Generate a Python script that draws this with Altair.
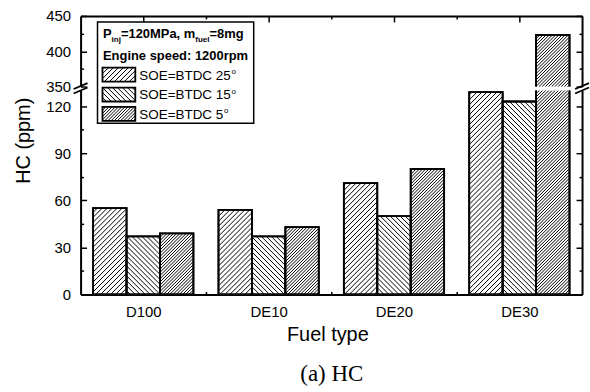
import altair as alt
import pandas as pd

# ---------------- data ----------------
fuels = ["D100", "DE10", "DE20", "DE30"]
soe_labels = ["SOE=BTDC 25", "SOE=BTDC 15", "SOE=BTDC 5"]
hc_btdc25 = [55, 54, 71, 129]
hc_btdc15 = [37, 37, 50, 123]
hc_btdc5 = [39, 43, 80, 423]
lower_tick_values = [0, 15, 30, 45, 60, 75, 90, 105, 120]
lower_label_values = [0, 30, 60, 90, 120]
upper_tick_values = [350, 375, 400, 425, 450]
upper_label_values = [350, 400, 450]

# ---------------- layout ----------------
W = 504                      # plot width
H_LO, H_HI, GAP = 205, 71, 4  # lower / upper panel heights, break gap
LO_DOM = [0, 130]
HI_DOM = [350, 450]
X_DOM = [0, len(fuels)]
GROUP = 0.8                  # share of a category slot taken by its bars
HATCH = [(1, 5.0), (-1, 5.0), (1, 3.2)]   # (slope sign, spacing px) per series
FONT = "Liberation Sans"


def px_x(x):
    return (x - X_DOM[0]) / (X_DOM[1] - X_DOM[0]) * W


def x_from_px(p):
    return X_DOM[0] + p / W * (X_DOM[1] - X_DOM[0])


def lo_px(v):
    return (v - LO_DOM[0]) / (LO_DOM[1] - LO_DOM[0]) * H_LO


def lo_from_px(p):
    return LO_DOM[0] + p / H_LO * (LO_DOM[1] - LO_DOM[0])


def hi_px(v):
    return (v - HI_DOM[0]) / (HI_DOM[1] - HI_DOM[0]) * H_HI


def hi_from_px(p):
    return HI_DOM[0] + p / H_HI * (HI_DOM[1] - HI_DOM[0])


def hatch(xa, xb, ya, yb, slope, step):
    """Diagonal hatch segments clipped to a pixel rectangle (y pointing up)."""
    segs = []
    if slope > 0:
        k0, k1 = int((ya - xb) // step), int((yb - xa) // step) + 1
        for k in range(k0, k1 + 1):
            c = k * step
            lo, hi = max(xa, ya - c), min(xb, yb - c)
            if hi - lo > 0.4:
                segs.append((lo, lo + c, hi, hi + c))
    else:
        k0, k1 = int((xa + ya) // step), int((xb + yb) // step) + 1
        for k in range(k0, k1 + 1):
            c = k * step
            lo, hi = max(xa, c - yb), min(xb, c - ya)
            if hi - lo > 0.4:
                segs.append((lo, c - lo, hi, c - hi))
    return segs


# bar table
series = [hc_btdc25, hc_btdc15, hc_btdc5]
rows = []
for i, fuel in enumerate(fuels):
    for k, vals in enumerate(series):
        x0 = i + (1 - GROUP) / 2 + k * GROUP / 3
        rows.append(dict(fuel=fuel, soe=soe_labels[k], k=k, x0=x0,
                         x1=x0 + GROUP / 3, v=vals[i], base=0))
bars = pd.DataFrame(rows)
bars_hi = bars[bars["v"] > HI_DOM[0]].copy()

# hatch lines for each panel
lo_segs, hi_segs = [], []
for r in bars.itertuples():
    slope, step = HATCH[r.k]
    xa, xb = px_x(r.x0), px_x(r.x1)
    for s in hatch(xa, xb, 0, lo_px(min(r.v, LO_DOM[1])), slope, step):
        lo_segs.append(dict(hx0=x_from_px(s[0]), hy0=lo_from_px(s[1]),
                            hx1=x_from_px(s[2]), hy1=lo_from_px(s[3])))
    if r.v > HI_DOM[0]:
        for s in hatch(xa, xb, 0, hi_px(min(r.v, HI_DOM[1])), slope, step):
            hi_segs.append(dict(hx0=x_from_px(s[0]), hy0=hi_from_px(s[1]),
                                hx1=x_from_px(s[2]), hy1=hi_from_px(s[3])))
lo_hatch = pd.DataFrame(lo_segs)
hi_hatch = pd.DataFrame(hi_segs)

# ---------------- legend (pixels relative to the lower panel's top-left) ----------------
LEG_BOX = (17, -69, 174, 33)
HEAD_X, HEAD1_Y, HEAD2_Y = 22.5, -53, -31
ENTRY_CY = [-16, 4, 23.5]
SW_X0, SW_X1, SW_H = 22, 55, 14
ENTRY_TX = 59
HEAD_FS, SUB_FS, ENTRY_FS, SUP_FS = 13, 8, 13.5, 8

ARIAL = {"S": 667, "O": 778, "E": 667, "=": 584, "B": 667, "T": 611, "D": 722,
         "C": 722, " ": 278, "1": 556, "2": 556, "5": 556}
ARIAL_BOLD = {"P": 667, "i": 278, "n": 611, "j": 278, "=": 584, "1": 556, "2": 556,
              "0": 556, "M": 833, "a": 556, ",": 278, " ": 278, "m": 889, "f": 333,
              "u": 611, "e": 556, "l": 278, "8": 556, "g": 611}


def text_w(s, fs, table):
    return sum(table.get(ch, 556) for ch in s) / 1000 * fs


def lx(p):
    return x_from_px(p)


def ly(p_down):
    return lo_from_px(H_LO - p_down)


legend_box = pd.DataFrame([dict(x0=lx(LEG_BOX[0]), x1=lx(LEG_BOX[2]),
                                y0=ly(LEG_BOX[1]), y1=ly(LEG_BOX[3]))])
swatches = pd.DataFrame([dict(x0=lx(SW_X0), x1=lx(SW_X1),
                              y0=ly(cy - SW_H / 2), y1=ly(cy + SW_H / 2), k=k)
                         for k, cy in enumerate(ENTRY_CY)])
sw_segs = []
for k, cy in enumerate(ENTRY_CY):
    slope, step = HATCH[k]
    ya, yb = H_LO - (cy + SW_H / 2), H_LO - (cy - SW_H / 2)
    for s in hatch(SW_X0, SW_X1, ya, yb, slope, step):
        sw_segs.append(dict(hx0=x_from_px(s[0]), hy0=lo_from_px(s[1]),
                            hx1=x_from_px(s[2]), hy1=lo_from_px(s[3])))
sw_hatch = pd.DataFrame(sw_segs)

bold_txt = []
cur = HEAD_X
for piece, sub in [("P", False), ("inj", True), ("=120MPa, m", False),
                   ("fuel", True), ("=8mg", False)]:
    fs = SUB_FS if sub else HEAD_FS
    bold_txt.append(dict(tx=lx(cur), ty=ly(HEAD1_Y + (4 if sub else 0)), txt=piece, fs=fs))
    cur += text_w(piece, fs, ARIAL_BOLD)
bold_txt.append(dict(tx=lx(HEAD_X), ty=ly(HEAD2_Y), txt="Engine speed: 1200rpm", fs=HEAD_FS))
bold_txt = pd.DataFrame(bold_txt)

reg_txt = []
for k, cy in enumerate(ENTRY_CY):
    base = cy + 5
    reg_txt.append(dict(tx=lx(ENTRY_TX), ty=ly(base), txt=soe_labels[k], fs=ENTRY_FS))
    w = text_w(soe_labels[k], ENTRY_FS, ARIAL)
    reg_txt.append(dict(tx=lx(ENTRY_TX + w + 0.8), ty=ly(base - 5.5), txt="o", fs=SUP_FS))
reg_txt = pd.DataFrame(reg_txt)

breaks = pd.DataFrame({"bx": X_DOM, "by": [LO_DOM[1]] * 2})

# ---------------- encodings ----------------
xs = alt.Scale(domain=X_DOM, nice=False, zero=False)
ys_lo = alt.Scale(domain=LO_DOM, nice=False, zero=False)
ys_hi = alt.Scale(domain=HI_DOM, nice=False, zero=False)

tick_lo = {"condition": {"test": "datum.value % 30 === 0", "value": 6}, "value": 3}
tick_hi = {"condition": {"test": "datum.value % 50 === 0", "value": 6}, "value": 3}
tick_x = {"condition": {"test": "datum.value % 1 !== 0", "value": 6}, "value": 3}
x_tick_values = [0.5, 1, 1.5, 2, 2.5, 3, 3.5]
centers = [i + 0.5 for i in range(len(fuels))]
label_expr = "[" + ",".join(f"'{f}'" for f in fuels) + "][floor(datum.value)]"


def tick_axis(orient, values, size, offset, domain=False):
    return alt.Axis(orient=orient, values=values, tickSize=size, offset=offset,
                    labels=False, domain=domain, title=None, domainWidth=2,
                    domainColor="black", tickColor="black", tickWidth=1.5)


# ---------------- lower panel ----------------
lo_bars = alt.Chart(bars).mark_rect(fill="white", stroke="black", strokeWidth=1.8,
                                    clip=True).encode(
    x=alt.X("x0:Q", scale=xs, axis=alt.Axis(
        orient="bottom", values=centers, labelExpr=label_expr, ticks=False, tickSize=0,
        labelPadding=10, labelFontSize=15, domainWidth=2, title="Fuel type",
        titleFontSize=20, titleY=46, titleBaseline="alphabetic", titleX=W / 2 - 4)),
    x2="x1",
    y=alt.Y("v:Q", scale=ys_lo, axis=alt.Axis(
        orient="left", values=lower_label_values, ticks=False, tickSize=0,
        labelPadding=10, labelFontSize=15, domainWidth=2, title="HC (ppm)",
        titleFontSize=20, titleAngle=270, titleX=-51, titleY=50,
        titleBaseline="alphabetic", titleAlign="center")),
    y2="base",
)

lo_lines = alt.Chart(lo_hatch).mark_rule(color="black", strokeWidth=1).encode(
    x=alt.X("hx0:Q", scale=xs, axis=tick_axis("top", x_tick_values, tick_x, -H_LO)),
    x2="hx1",
    y=alt.Y("hy0:Q", scale=ys_lo, axis=tick_axis("right", lower_tick_values, tick_lo, -W)),
    y2="hy1",
)

lo_outline = alt.Chart(bars).mark_rect(fill="white", fillOpacity=0, stroke="black",
                                       strokeWidth=1.8, clip=True).encode(
    x=alt.X("x0:Q", scale=xs, axis=None),
    x2="x1",
    y=alt.Y("v:Q", scale=ys_lo,
            axis=tick_axis("left", lower_tick_values, tick_lo, -W, domain=True)),
    y2="base",
)

leg_frame = alt.Chart(legend_box).mark_rect(fill="white", stroke="black",
                                            strokeWidth=1.5).encode(
    x=alt.X("x0:Q", scale=xs, axis=None), x2="x1",
    y=alt.Y("y0:Q", scale=ys_lo, axis=None), y2="y1",
)
leg_sw = alt.Chart(swatches).mark_rect(fill="white").encode(
    x=alt.X("x0:Q", scale=xs, axis=None), x2="x1",
    y=alt.Y("y0:Q", scale=ys_lo, axis=None), y2="y1",
)
leg_sw_lines = alt.Chart(sw_hatch).mark_rule(color="black", strokeWidth=1).encode(
    x=alt.X("hx0:Q", scale=xs, axis=None), x2="hx1",
    y=alt.Y("hy0:Q", scale=ys_lo, axis=None), y2="hy1",
)
leg_sw_out = alt.Chart(swatches).mark_rect(fill="white", fillOpacity=0, stroke="black",
                                           strokeWidth=1.8).encode(
    x=alt.X("x0:Q", scale=xs, axis=None), x2="x1",
    y=alt.Y("y0:Q", scale=ys_lo, axis=None), y2="y1",
)
leg_bold = alt.Chart(bold_txt).mark_text(font=FONT, fontWeight="bold", align="left",
                                         baseline="alphabetic", color="black").encode(
    x=alt.X("tx:Q", scale=xs, axis=None),
    y=alt.Y("ty:Q", scale=ys_lo, axis=None),
    text="txt:N",
    size=alt.Size("fs:Q", scale=None),
)
leg_reg = alt.Chart(reg_txt).mark_text(font=FONT, align="left", baseline="alphabetic",
                                       color="black").encode(
    x=alt.X("tx:Q", scale=xs, axis=None),
    y=alt.Y("ty:Q", scale=ys_lo, axis=None),
    text="txt:N",
    size=alt.Size("fs:Q", scale=None),
)


def break_marks(y_off):
    return alt.Chart(breaks).mark_rule(color="black", strokeWidth=1.8, xOffset=-7,
                                       x2Offset=7, yOffset=y_off + 3,
                                       y2Offset=y_off - 3).encode(
        x=alt.X("bx:Q", scale=xs, axis=None), x2="bx",
        y=alt.Y("by:Q", scale=ys_lo, axis=None), y2="by",
    )


lower = alt.layer(
    lo_bars, lo_lines, lo_outline, leg_frame, leg_sw, leg_sw_lines, leg_sw_out,
    leg_bold, leg_reg, break_marks(0), break_marks(-GAP - 0.5),
).resolve_axis(x="independent", y="independent").properties(width=W, height=H_LO)

# ---------------- upper panel ----------------
hi_bars = alt.Chart(bars_hi).mark_rect(fill="white", stroke="black", strokeWidth=1.8,
                                       clip=True).encode(
    x=alt.X("x0:Q", scale=xs,
            axis=tick_axis("bottom", x_tick_values, tick_x, -H_HI, domain=True)),
    x2="x1",
    y=alt.Y("v:Q", scale=ys_hi, axis=alt.Axis(
        orient="left", values=upper_label_values, ticks=False, tickSize=0,
        labelPadding=10, labelFontSize=15, domainWidth=2, title=None)),
    y2="base",
)
hi_lines = alt.Chart(hi_hatch).mark_rule(color="black", strokeWidth=1).encode(
    x=alt.X("hx0:Q", scale=xs, axis=None),
    x2="hx1",
    y=alt.Y("hy0:Q", scale=ys_hi, axis=tick_axis("right", upper_tick_values, tick_hi, -W)),
    y2="hy1",
)
hi_outline = alt.Chart(bars_hi).mark_rect(fill="white", fillOpacity=0, stroke="black",
                                          strokeWidth=1.8, clip=True).encode(
    x=alt.X("x0:Q", scale=xs, axis=None),
    x2="x1",
    y=alt.Y("v:Q", scale=ys_hi,
            axis=tick_axis("left", upper_tick_values, tick_hi, -W, domain=True)),
    y2="base",
)
upper = alt.layer(hi_bars, hi_lines, hi_outline).resolve_axis(
    x="independent", y="independent").properties(width=W, height=H_HI)

chart = alt.vconcat(upper, lower, spacing=GAP, bounds="flush").properties(
    title=alt.TitleParams("(a) HC", orient="bottom", anchor="middle",
                          font="Liberation Serif", fontSize=23, fontWeight="normal",
                          color="black", offset=19, dx=30),
    padding={"left": 14, "top": 8, "right": 0, "bottom": 5},
).configure_view(stroke=None).configure_axis(
    labelFont=FONT, titleFont=FONT, labelColor="black", titleColor="black",
    titleFontWeight="normal", grid=False, labelFlush=False, labelOverlap=False,
    domainColor="black", tickColor="black",
)

chart.save("out.html", embed_options={"renderer": "svg", "actions": False})
